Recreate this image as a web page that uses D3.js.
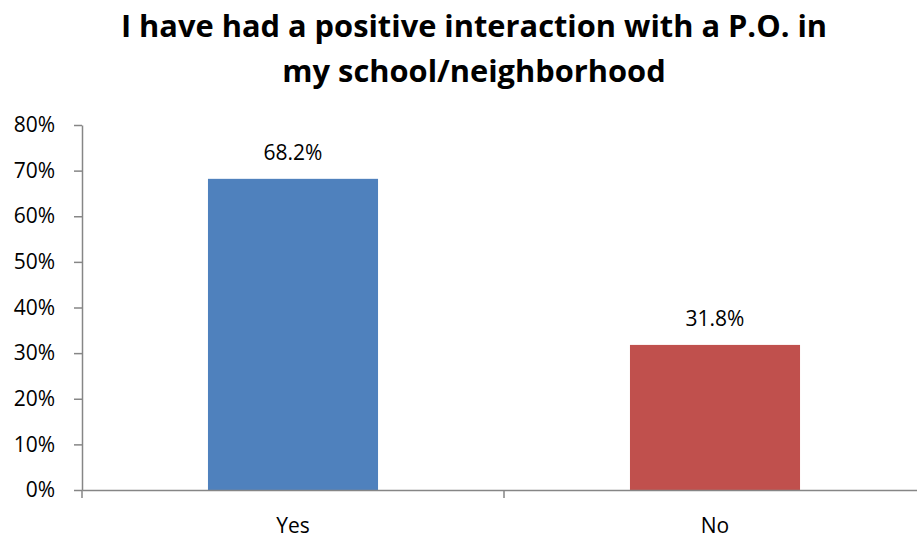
<!DOCTYPE html>
<html><head><meta charset="utf-8">
<script src="https://cdn.jsdelivr.net/npm/d3@7"></script>
<style>body{margin:0;background:#fff}svg{display:block}</style>
</head><body><svg id="c" width="917" height="538"></svg>
<script>
const categories = ["Yes", "No"];
const values = [68.2, 31.8];
const colors = ["#4F81BD", "#C0504D"];
const yTicks = [0, 10, 20, 30, 40, 50, 60, 70, 80];
const titleLines = ["I have had a positive interaction with a P.O. in", "my school/neighborhood"];

const svg = d3.select("#c");
const font = "'Open Sans', Lato, sans-serif";
const x = d3.scaleBand().domain(categories).range([82, 926]).paddingInner(0).paddingOuter(0);
const y = d3.scaleLinear().domain([0, 80]).range([490, 125]);
const barW = x.bandwidth() * 0.403;

svg.selectAll("text.title").data(titleLines).enter().append("text")
  .attr("class", "title")
  .attr("x", 474).attr("y", (d, i) => 37 + i * 45)
  .attr("text-anchor", "middle").attr("font-family", font)
  .attr("font-weight", "bold").attr("font-size", 30.8).attr("fill", "#000").text(d => d);

svg.selectAll("rect.bar").data(values).enter().append("rect")
  .attr("x", (d, i) => x(categories[i]) + (x.bandwidth() - barW) / 2)
  .attr("y", d => y(d)).attr("width", barW).attr("height", d => y(0) - y(d))
  .attr("fill", (d, i) => colors[i]);

svg.selectAll("text.val").data(values).enter().append("text")
  .attr("x", (d, i) => x(categories[i]) + x.bandwidth() / 2)
  .attr("y", d => y(d) - 19).attr("text-anchor", "middle")
  .attr("font-family", font).attr("font-size", 21).attr("fill", "#000")
  .text(d => d.toFixed(1) + "%");

const yAxis = svg.append("g").attr("transform", "translate(82,0)")
  .call(d3.axisLeft(y).tickValues(yTicks).tickSize(8).tickSizeOuter(0).tickPadding(19).tickFormat(d => d + "%"));
yAxis.selectAll("line,path").attr("stroke", "#868686").attr("stroke-width", 1.5);
yAxis.selectAll("text").attr("font-family", font).attr("font-size", 21).attr("fill", "#000");

const xAxis = svg.append("g").attr("transform", "translate(0,490)")
  .call(d3.axisBottom(x).tickSize(0).tickPadding(28));
xAxis.select("path").attr("stroke", "#868686").attr("stroke-width", 1.5);
xAxis.selectAll("text").attr("font-family", font).attr("font-size", 21).attr("fill", "#000");
svg.append("g").selectAll("line").data([x.range()[0], x(categories[1]), x.range()[1]]).enter().append("line")
  .attr("x1", d => d).attr("x2", d => d).attr("y1", 490).attr("y2", 498)
  .attr("stroke", "#868686").attr("stroke-width", 1.5);
</script></body></html>
